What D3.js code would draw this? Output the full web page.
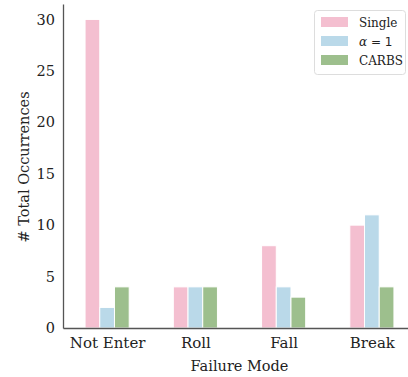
<!DOCTYPE html>
<html><head><meta charset="utf-8">
<script src="https://cdn.jsdelivr.net/npm/d3@7"></script>
<style>body{margin:0;background:#fff}svg{display:block}text{font-family:"DejaVu Serif",serif;fill:#222}</style>
</head><body><svg id="c" width="408" height="377"></svg>
<script>
const categories = ["Not Enter", "Roll", "Fall", "Break"];
const seriesNames = ["Single", "\u03b1 = 1", "CARBS"];
const single = [30, 4, 8, 10];
const alpha1 = [2, 4, 4, 11];
const carbs = [4, 4, 3, 4];
const yTicks = [0, 5, 10, 15, 20, 25, 30];
const colors = ["#F4BFD0", "#BAD9E9", "#9DBF8D"];

const series = [single, alpha1, carbs];
const svg = d3.select("#c");
const L = 63, B = 328;
const x = d3.scaleLinear().domain([-0.5, 3.5]).range([L, 416]);
const y = d3.scaleLinear().domain([0, 31.5]).range([B, 4]);
const step = x(1) - x(0);
const bw = step / 6;

series.forEach((vals, si) => {
  svg.append("g").selectAll("rect").data(vals).join("rect")
    .attr("x", (d, i) => x(i) - 1.5 * bw + si * bw)
    .attr("width", bw)
    .attr("y", d => y(d))
    .attr("height", d => y(0) - y(d))
    .attr("fill", colors[si])
    .attr("stroke", "#fff").attr("stroke-width", 1);
});

const ya = svg.append("g").attr("transform", `translate(${L},0)`)
  .call(d3.axisLeft(y).tickValues(yTicks).tickSize(0).tickPadding(8));
ya.select(".domain").attr("stroke", "#555").attr("stroke-width", 1.3);
ya.selectAll("text").style("font-size", "14.5px").attr("font-family", null);

const xa = svg.append("g").attr("transform", `translate(0,${B})`)
  .call(d3.axisBottom(x).tickValues([0, 1, 2, 3]).tickFormat(i => categories[i]).tickSize(0).tickPadding(9));
xa.select(".domain").attr("stroke", "#555").attr("stroke-width", 1.3);
xa.selectAll("text").style("font-size", "15px").attr("font-family", null);

svg.append("text").attr("x", 239.5).attr("y", 371).attr("text-anchor", "middle")
  .style("font-size", "14.5px").text("Failure Mode");
svg.append("text").attr("transform", "translate(29,167) rotate(-90)").attr("text-anchor", "middle")
  .style("font-size", "14.5px").text("# Total Occurrences");

// legend
const lg = svg.append("g");
lg.append("rect").attr("x", 314.5).attr("y", 10.5).attr("width", 91).attr("height", 64).attr("rx", 3)
  .attr("fill", "#fff").attr("stroke", "#ddd");
seriesNames.forEach((n, i) => {
  const cy = 22 + i * 19;
  lg.append("rect").attr("x", 321).attr("y", cy - 5).attr("width", 27).attr("height", 10).attr("fill", colors[i]);
  const t = lg.append("text").attr("x", 359).attr("y", cy + 4.5).style("font-size", "12px");
  if (i === 1) {
    t.append("tspan").style("font-style", "italic").text("\u03b1");
    t.append("tspan").attr("font-family", "DejaVu Sans").text(" = 1");
  } else t.text(n);
});
</script></body></html>
